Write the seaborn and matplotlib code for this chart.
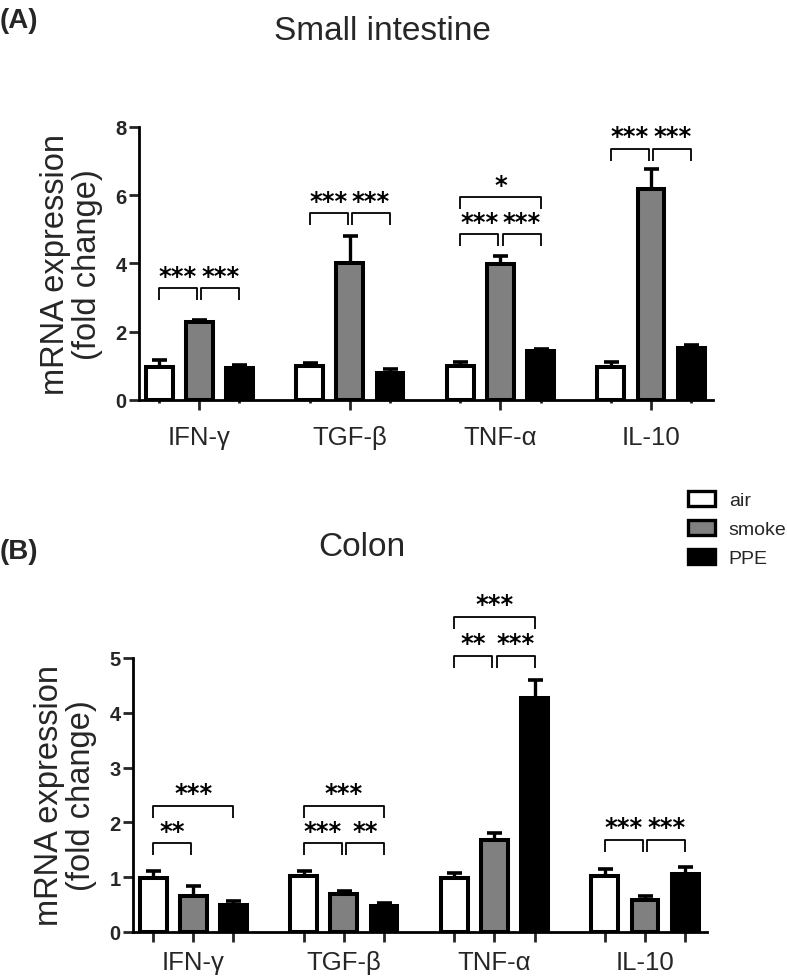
import numpy as np
import pandas as pd
import matplotlib
matplotlib.use("Agg")
import matplotlib.pyplot as plt
import seaborn as sns
from matplotlib.patches import Patch

sns.set_style("white")
plt.rcParams['font.family'] = ['Liberation Sans', 'DejaVu Sans']

# ---------------- data ----------------
cytokines = ["IFN-γ", "TGF-β", "TNF-α", "IL-10"]
groups = ["air", "smoke", "PPE"]
colors = ["#ffffff", "#808080", "#000000"]

# Small intestine (panel A)
si_air = [0.97, 1.00, 0.99, 0.97]
si_smoke = [2.27, 4.02, 3.99, 6.19]
si_ppe = [0.93, 0.80, 1.43, 1.53]
si_air_err = [0.19, 0.08, 0.13, 0.15]
si_smoke_err = [0.07, 0.78, 0.24, 0.57]
si_ppe_err = [0.10, 0.11, 0.07, 0.07]

# Colon (panel B)
co_air = [0.99, 1.03, 0.99, 1.03]
co_smoke = [0.65, 0.69, 1.68, 0.58]
co_ppe = [0.50, 0.47, 4.27, 1.06]
co_air_err = [0.13, 0.09, 0.09, 0.11]
co_smoke_err = [0.18, 0.06, 0.13, 0.07]
co_ppe_err = [0.07, 0.06, 0.33, 0.12]

# significance annotations: (cytokine index, group i, group j, bracket level, label)
si_sig = [(0, 0, 1, 3.27, "***"), (0, 1, 2, 3.27, "***"),
          (1, 0, 1, 5.48, "***"), (1, 1, 2, 5.48, "***"),
          (2, 0, 1, 4.85, "***"), (2, 1, 2, 4.85, "***"), (2, 0, 2, 5.95, "*"),
          (3, 0, 1, 7.36, "***"), (3, 1, 2, 7.36, "***")]
co_sig = [(0, 0, 1, 1.62, "**"), (0, 0, 2, 2.30, "***"),
          (1, 0, 1, 1.62, "***"), (1, 1, 2, 1.62, "**"), (1, 0, 2, 2.30, "***"),
          (2, 0, 1, 5.04, "**"), (2, 1, 2, 5.04, "***"), (2, 0, 2, 5.75, "***"),
          (3, 0, 1, 1.68, "***"), (3, 1, 2, 1.68, "***")]


def make_df(vals, errs):
    rows = []
    for g, v, e in zip(groups, vals, errs):
        for c, vv, ee in zip(cytokines, v, e):
            rows.append({"cytokine": c, "group": g, "value": vv, "err": ee})
    return pd.DataFrame(rows)


df_si = make_df([si_air, si_smoke, si_ppe], [si_air_err, si_smoke_err, si_ppe_err])
df_co = make_df([co_air, co_smoke, co_ppe], [co_air_err, co_smoke_err, co_ppe_err])

fig = plt.figure(figsize=(7.87, 9.79), dpi=100)
axA = fig.add_axes([0.1766, 0.5904, 0.729, 0.279])
axB = fig.add_axes([0.169, 0.047, 0.729, 0.280])


def draw(ax, df, ymax, yticks, sig, leg, star_off, minor_len, xpad):
    sns.barplot(data=df, x="cytokine", y="value", hue="group", order=cytokines,
                hue_order=groups, palette=colors, edgecolor="black", linewidth=2.9,
                errorbar=None, gap=0.33, width=0.8, ax=ax, legend=False)
    # bar centres
    centers = {}
    for patch in ax.patches:
        x = patch.get_x() + patch.get_width() / 2
        centers.setdefault(round(patch.get_x(), 3), x)
    xs = sorted(centers.values())
    pos = np.array(xs).reshape(len(cytokines), len(groups))
    # error bars (upper only)
    for gi, g in enumerate(groups):
        sub = df[df.group == g].set_index("cytokine").loc[cytokines]
        ax.errorbar(pos[:, gi], sub["value"].values,
                    yerr=[np.zeros(len(cytokines)), sub["err"].values],
                    fmt="none", ecolor="black", elinewidth=2.4, capsize=5.4,
                    capthick=2.6, zorder=1)
    # significance brackets
    for ci, i, j, y, lab in sig:
        x1 = pos[ci, i]
        x2 = pos[ci, j]
        if j - i == 1:
            if i == 1:
                x1 += 0.015
            else:
                x2 -= 0.015
        ax.plot([x1, x1, x2, x2], [y - leg, y, y, y - leg], color="black",
                lw=1.3, clip_on=False, solid_capstyle="butt", zorder=3)
        ax.text((x1 + x2) / 2, y + star_off, lab, ha="center", va="center",
                fontsize=17.5, family="DejaVu Sans", fontweight="bold",
                color="black", clip_on=False)
    ax.set_xlim(-0.4, 3.41)
    ax.set_ylim(0, ymax)
    ax.set_yticks(yticks)
    ax.set_yticklabels([str(t) for t in yticks], fontsize=14.5, fontweight="bold")
    ax.set_xticks(pos[:, 1])
    ax.set_xticklabels(cytokines, fontsize=18.5)
    ax.set_xticks(np.concatenate([pos[:, 0], pos[:, 2]]), minor=True)
    ax.tick_params(axis="x", which="major", length=7, width=2, pad=xpad, direction="out",
                   bottom=True)
    ax.tick_params(axis="x", which="minor", length=minor_len, width=2, direction="out",
                   bottom=True)
    ax.tick_params(axis="y", which="major", length=7, width=2, pad=2, direction="out",
                   left=True)
    ax.set_xlabel("")
    ax.set_ylabel("mRNA expression\n(fold change)", fontsize=23.5, linespacing=1.05,
                  labelpad=9)
    for s in ["top", "right"]:
        ax.spines[s].set_visible(False)
    for s in ["left", "bottom"]:
        ax.spines[s].set_linewidth(2)
        ax.spines[s].set_color("black")


draw(axA, df_si, 8, [0, 2, 4, 6, 8], si_sig, 0.35, 0.36, 2, 11)
draw(axB, df_co, 5, [0, 1, 2, 3, 4, 5], co_sig, 0.22, 0.23, 7, 6)

fig.text(382 / 787, 1 - 32 / 979, "Small intestine", ha="center", va="center", fontsize=24)
fig.text(362 / 787, 1 - 548 / 979, "Colon", ha="center", va="center", fontsize=24)
fig.text(0.0, 1 - 21 / 979, "(A)", ha="left", va="center", fontsize=20, fontweight="bold")
fig.text(0.0, 1 - 552 / 979, "(B)", ha="left", va="center", fontsize=20, fontweight="bold")

handles = [Patch(facecolor=c, edgecolor="black", linewidth=2.4, label=g)
           for c, g in zip(colors, groups)]
fig.legend(handles=handles, loc="upper left", bbox_to_anchor=(688 / 787, 1 - 492 / 979),
           frameon=False, fontsize=14, handlelength=1.4, handleheight=0.8,
           handletextpad=0.7, labelspacing=0.55, borderaxespad=0, borderpad=0)

fig.savefig("out.png", dpi=100)
